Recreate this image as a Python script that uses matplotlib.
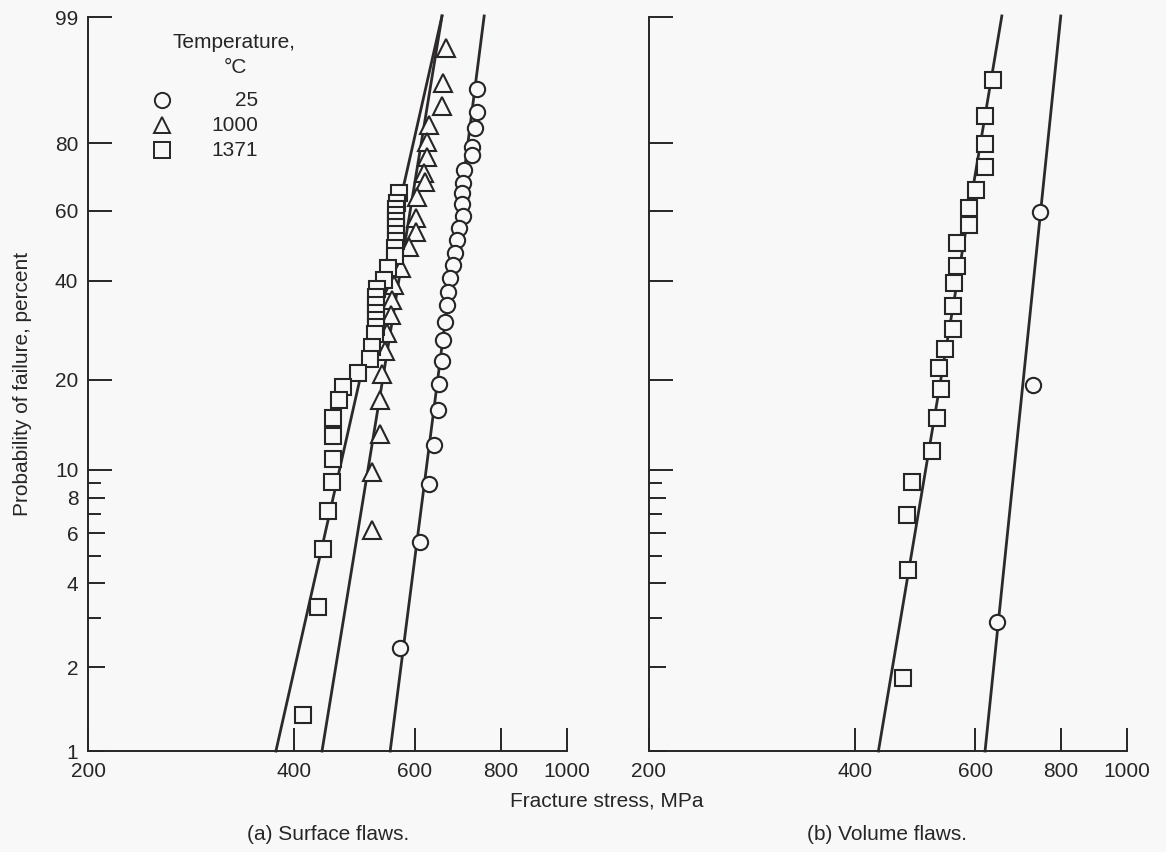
"""
Weibull plot of fracture stress, surface flaws (a) and volume flaws (b).
"""
import numpy as np
import matplotlib.pyplot as plt
from matplotlib.ticker import FixedLocator, FuncFormatter, NullLocator

plt.rcParams['font.family'] = ['Liberation Sans', 'DejaVu Sans']

bg = '#f8f8f8'
ink = '#262626'
fs = 15

# (a) Surface flaws
surf_25_stress = [740, 740, 734, 727, 727, 708, 705, 702, 702, 705, 696, 692, 687,
                  681, 675, 670, 668, 664, 660, 657, 651, 649, 640, 629, 611, 570]
surf_25_prob = [92.0, 87.6, 83.9, 78.9, 76.7, 72.3, 68.4, 65.4, 62.0, 58.3, 54.7, 51.2, 47.4,
                44.1, 40.6, 37.1, 34.0, 30.3, 26.7, 23.0, 19.4, 15.9, 12.1, 8.9, 5.6, 2.34]

surf_1000_stress = [665, 660, 656, 628, 624, 624, 619, 620, 604, 602, 602, 588, 573,
                    560, 555, 553, 547, 543, 537, 534, 534, 520, 520]
surf_1000_prob = [97.2, 93.0, 88.9, 84.6, 80.3, 76.1, 71.6, 68.8, 64.2, 57.7, 53.5, 49.1, 43.3,
                  38.9, 35.2, 31.8, 28.1, 24.7, 20.9, 17.2, 13.2, 9.8, 6.15]

surf_1371_stress = [569, 565, 563, 563, 563, 563, 563, 563, 561, 561, 548, 541, 528, 527, 527, 527,
                    527, 527, 525, 520, 516, 496, 471, 465, 456, 456, 456, 454, 448, 441, 433, 412]
surf_1371_prob = [65.4, 62.3, 60.5, 58.6, 56.8, 55.0, 52.9, 50.9, 48.8, 46.6, 43.3, 40.1, 37.9, 35.9,
                  34.0, 32.2, 30.7, 29.3, 27.9, 25.4, 23.3, 21.0, 18.9, 17.2, 15.0, 13.0, 10.9,
                  9.1, 7.2, 5.3, 3.28, 1.35]

# (b) Volume flaws
vol_25_stress = [746, 729, 646]
vol_25_prob = [59.6, 19.2, 2.9]

vol_1371_stress = [636, 620, 620, 620, 601, 588, 588, 565, 564, 558, 557, 556, 542, 531, 534,
                   528, 518, 484, 476, 479, 470]
vol_1371_prob = [93.5, 86.7, 79.8, 73.2, 66.3, 60.8, 55.6, 50.3, 43.8, 39.4, 33.8, 28.9, 25.0,
                 21.8, 18.7, 15.0, 11.6, 9.05, 6.95, 4.45, 1.83]

# Fitted Weibull lines (stress at each end, probability at each end)
fit_prob = [1, 99.05]
surf_fit_25 = [552, 757]
surf_fit_1000 = [439, 657]
surf_fit_1371 = [376, 657]
vol_fit_25 = [620, 800]
vol_fit_1371 = [433, 656]

x_ticks = [200, 400, 600, 800, 1000]
y_ticks = [1, 2, 4, 6, 8, 10, 20, 40, 60, 80, 99]
y_minor = [3, 5, 7, 9]


def weibull(p):
    with np.errstate(all='ignore'):
        return np.log(-np.log(1 - np.asarray(p, dtype=float) / 100.0))


def weibull_inv(w):
    return 100.0 * (1 - np.exp(-np.exp(np.asarray(w, dtype=float))))


def setup_axes(ax, show_ylabels):
    ax.set_facecolor(bg)
    ax.set_xscale('log')
    ax.set_yscale('function', functions=(weibull, weibull_inv))
    ax.set_xlim(200, 1000)
    ax.set_ylim(1, 99)

    ax.xaxis.set_major_locator(FixedLocator(x_ticks))
    ax.xaxis.set_minor_locator(NullLocator())
    ax.xaxis.set_major_formatter(FuncFormatter(lambda v, pos: f'{v:.0f}'))
    ax.yaxis.set_major_locator(FixedLocator(y_ticks))
    ax.yaxis.set_minor_locator(FixedLocator(y_minor))
    ax.yaxis.set_major_formatter(FuncFormatter(lambda v, pos: f'{v:g}'))

    for side in ['top', 'right']:
        ax.spines[side].set_visible(False)
    for side in ['left', 'bottom']:
        ax.spines[side].set_linewidth(1.4)
        ax.spines[side].set_color(ink)

    ax.tick_params(axis='both', which='both', direction='in', width=1.4, color=ink,
                   labelsize=fs, labelcolor=ink)
    ax.tick_params(axis='x', which='major', length=16.5, pad=8)
    ax.tick_params(axis='y', which='major', length=17, pad=7, labelleft=show_ylabels)
    ax.tick_params(axis='y', which='minor', length=9)

    # Shorter ticks below 10 percent
    for tick, val in zip(ax.yaxis.get_major_ticks(len(y_ticks)), y_ticks):
        if val < 10:
            tick.tick1line.set_markersize(12)


def plot_series(ax, stress, prob, marker, size):
    ax.plot(stress, prob, linestyle='none', marker=marker, markersize=size,
            markerfacecolor=bg, markeredgecolor=ink, markeredgewidth=1.5, zorder=3,
            clip_on=False)


def plot_fit(ax, stress):
    ax.plot(stress, fit_prob, color='#2e2a2a', linewidth=2.0, zorder=2, clip_on=False)


fig = plt.figure(figsize=(11.66, 8.52), dpi=100, facecolor=bg)
ax1 = fig.add_axes([0.0755, 0.1185, 0.4108, 0.8612])
ax2 = fig.add_axes([0.5566, 0.1185, 0.4100, 0.8612])

setup_axes(ax1, True)
setup_axes(ax2, False)

plot_fit(ax1, surf_fit_25)
plot_fit(ax1, surf_fit_1000)
plot_fit(ax1, surf_fit_1371)
plot_series(ax1, surf_25_stress, surf_25_prob, 'o', 11)
plot_series(ax1, surf_1000_stress, surf_1000_prob, '^', 12.5)
plot_series(ax1, surf_1371_stress, surf_1371_prob, 's', 11)

plot_fit(ax2, vol_fit_25)
plot_fit(ax2, vol_fit_1371)
plot_series(ax2, vol_25_stress, vol_25_prob, 'o', 11)
plot_series(ax2, vol_1371_stress, vol_1371_prob, 's', 11)

# Key for the temperatures
ax1.text(0.305, 0.965, 'Temperature,', transform=ax1.transAxes, ha='center', va='center',
         fontsize=fs, color=ink)
ax1.text(0.307, 0.932, '°C', transform=ax1.transAxes, ha='center', va='center',
         fontsize=fs, color=ink)
key_labels = ['25', '1000', '1371']
key_markers = ['o', '^', 's']
key_y = [0.887, 0.853, 0.819]
for label, marker, ky in zip(key_labels, key_markers, key_y):
    ax1.plot([0.154], [ky], transform=ax1.transAxes, linestyle='none', marker=marker,
             markersize=11, markerfacecolor=bg, markeredgecolor=ink, markeredgewidth=1.4,
             clip_on=False)
    ax1.text(0.355, ky, label, transform=ax1.transAxes, ha='right', va='center',
             fontsize=fs, color=ink)

fig.text(0.019, 0.549, 'Probability of failure, percent', rotation=90, ha='center',
         va='center', fontsize=fs, color=ink)
fig.text(0.52, 0.06, 'Fracture stress, MPa', ha='center', va='center', fontsize=fs, color=ink)
fig.text(0.281, 0.02, '(a) Surface flaws.', ha='center', va='center', fontsize=fs, color=ink)
fig.text(0.761, 0.02, '(b) Volume flaws.', ha='center', va='center', fontsize=fs, color=ink)

fig.savefig('out.png', dpi=100, facecolor=bg)
